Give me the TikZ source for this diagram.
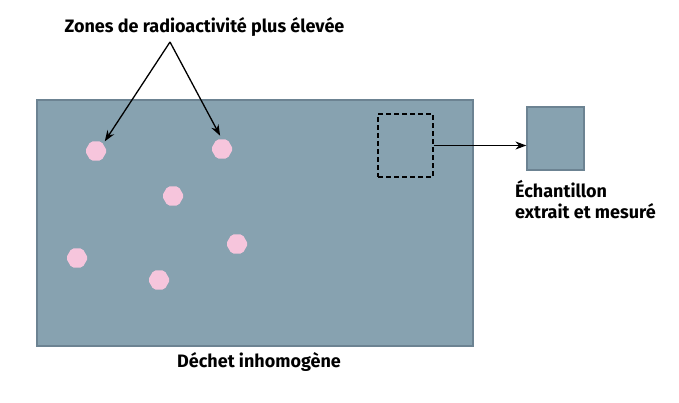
\documentclass[tikz,border=0pt]{standalone}
\usepackage{fontspec}
\setmainfont{Fira Sans}
\usetikzlibrary{arrows.meta, positioning, shapes.geometric}
\definecolor{waste}{HTML}{87A2B0}
\definecolor{wasteedge}{HTML}{6C8392}
\definecolor{hotspot}{HTML}{F6C5DC}
\begin{document}
\begin{tikzpicture}[
    x=1pt, y=-1pt,
    >={Stealth[length=11pt, width=8pt]},
    every node/.style={font=\bfseries\fontsize{18}{21.5}\selectfont},
    block/.style ={draw=wasteedge, fill=waste, line width=1.2pt, inner sep=0pt},
    spot/.style  ={regular polygon, regular polygon sides=6, fill=hotspot,
                   rounded corners=2pt, minimum size=22pt, inner sep=0pt},
    cut/.style   ={draw, dash pattern=on 5pt off 3pt, line width=1.3pt,
                   inner sep=0pt, minimum width=55pt, minimum height=63pt},
    flow/.style  ={->, line width=1.3pt},
]
\useasboundingbox (0,0) rectangle (679,403);
% inhomogeneous waste block
\node[block, minimum width=436pt, minimum height=246pt] (waste) at (255,223) {};
\node (wastelbl) at (259,362) {Déchet inhomogène};
% hot spots
\node[spot] (s1) at (96,151) {};
\node[spot] (s2) at (222,149) {};
\node[spot] (s3) at (173,196) {};
\node[spot] (s4) at (237,244) {};
\node[spot] (s5) at (77,258) {};
\node[spot] (s6) at (159,280) {};
\node (zones) at (204.5,27) {Zones de radioactivité plus élevée};
\coordinate (fork) at (170,42);
\draw[flow, shorten >=3pt] (fork) -- (s1.north east);
\draw[flow, shorten >=4pt] (fork) -- (s2.north);
% sample
\node[cut] (cut) at (405.5,145.5) {};
\node[block, minimum width=57pt, minimum height=63pt] (sample) at (555.5,138.5) {};
\draw[flow] (cut.east) -- (cut.east -| sample.west);
\node[anchor=north west, align=left, inner sep=0pt] (samplelbl) at (515,180)
     {Échantillon\\extrait et mesuré};
\end{tikzpicture}
\end{document}
